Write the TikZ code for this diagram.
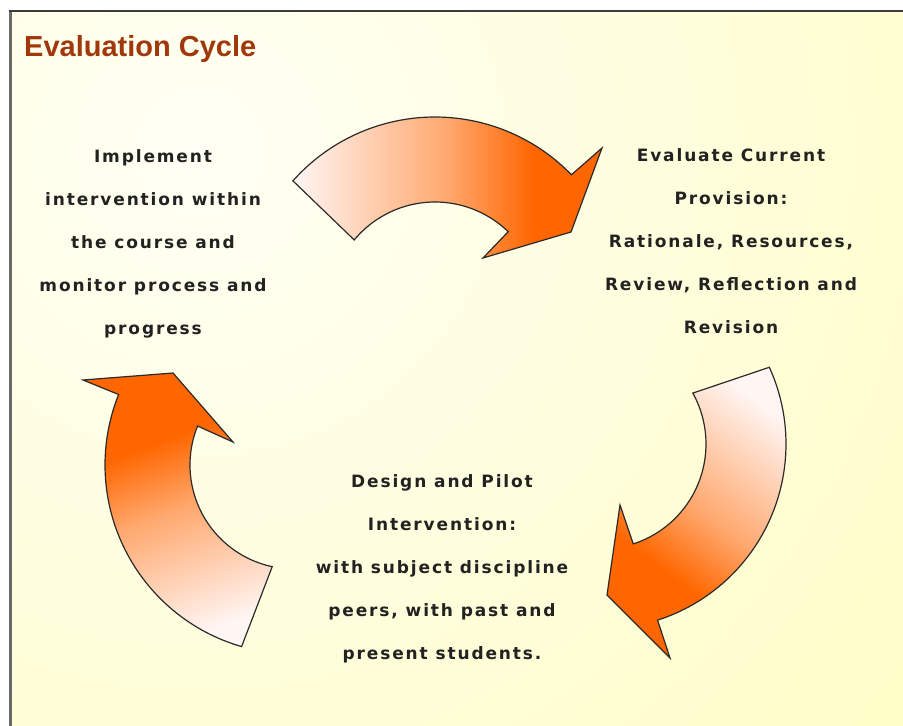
\documentclass[tikz,border=0pt]{standalone}
\usepackage{fontspec}
\setmainfont{Liberation Sans}
\newfontfamily\labelfont[LetterSpace=11]{DejaVu Sans}
\newfontfamily\titlefont{Liberation Sans}
\usetikzlibrary{calc}
\definecolor{arrorange}{HTML}{FF6600}
\definecolor{arrlight}{HTML}{FFF6F4}
\definecolor{arrmid}{HTML}{FFA86E}
\definecolor{titlecol}{HTML}{A0380C}
\definecolor{txtcol}{HTML}{222222}
\definecolor{edgecol}{HTML}{2A2A2A}
\definecolor{bgin}{HTML}{FFFFF5}
\definecolor{bgout}{HTML}{FFFDC8}
\definecolor{topborder}{HTML}{3C3C3C}
\definecolor{leftborder}{HTML}{6A6A6A}
\pgfdeclareradialshading{bgshade}{\pgfpointorigin}{color(0bp)=(bgin); color(22bp)=(bgout); color(50bp)=(bgout)}
\pgfdeclarehorizontalshading{arrowshade}{100bp}{color(0bp)=(arrlight); color(25bp)=(arrlight); color(50bp)=(arrmid); color(64bp)=(arrorange); color(100bp)=(arrorange)}
\begin{document}
\begin{tikzpicture}[x=1pt,y=-1pt,
  cyclearrow/.style={draw=edgecol, line width=1.2pt, line join=miter, shading=arrowshade},
  steptext/.style={font=\labelfont\bfseries\fontsize{17}{43}\selectfont, text=txtcol, align=center, inner sep=0pt}]
\useasboundingbox (0,0) rectangle (903,726);
\fill[white] (0,0) rectangle (903,726);
\fill[bgout] (11,11) rectangle (903,726);
\begin{scope}
  \clip (11,11) rectangle (903,726);
  \shade[shading=bgshade] (200,150) circle (1000);
\end{scope}
\draw[leftborder, line width=3pt] (10,11) -- (10,726);
\draw[topborder, line width=2.6pt] (8.5,11) -- (903,11);

\node[font=\titlefont\bfseries\fontsize{29}{33}\selectfont, text=titlecol, anchor=base west, inner sep=0pt] (title) at (24,56) {Evaluation Cycle};

% top arrow
\shadedraw[cyclearrow, shading angle=0]
  ($(435,307)+(-138.4:190)$) arc[start angle=-138.4, end angle=-44.1, radius=190]
  -- (602,148) -- (571,232) -- (483,258)
  -- ($(435,307)+(-45.8:105)$) arc[start angle=-45.8, end angle=-140.3, radius=105] -- cycle;
% right arrow
\shadedraw[cyclearrow, shading angle=233]
  ($(601,444)+(-24.5:185)$) arc[start angle=-24.5, end angle=72.2, radius=185]
  -- (670,658) -- (607,595) -- (620,505)
  -- ($(601,444)+(72.1:105)$) arc[start angle=72.1, end angle=-29, radius=105] -- cycle;
% left arrow
\shadedraw[cyclearrow, shading angle=110]
  ($(294,465)+(106.1:189)$) arc[start angle=106.1, end angle=201.9, radius=189]
  -- (83,380) -- (173,373) -- (233,442)
  -- ($(294,465)+(202:104)$) arc[start angle=202, end angle=102.1, radius=104] -- cycle;

\node[steptext] (impl) at (153,244) {Implement\\intervention within\\the course and\\monitor process and\\progress};
\node[steptext] (eval) at (731,241.5) {Evaluate Current\\Provision:\\Rationale, Resources,\\Review, Reflection and\\Revision};
\node[steptext] (design) at (442,568.5) {Design and Pilot\\Intervention:\\with subject discipline\\peers, with past and\\present students.};
\end{tikzpicture}
\end{document}
